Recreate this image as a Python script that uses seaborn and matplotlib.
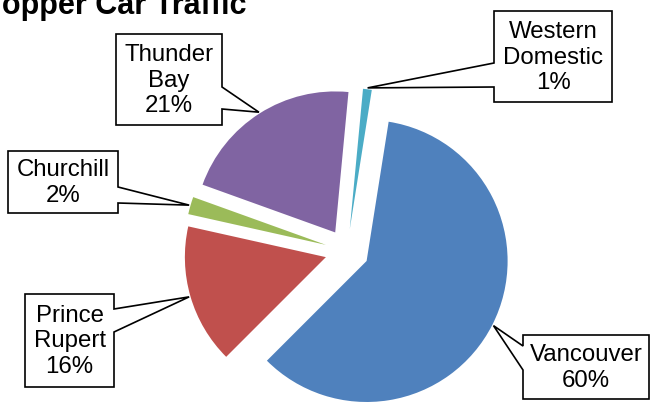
import numpy as np
import pandas as pd
import matplotlib
matplotlib.use("Agg")
import matplotlib.pyplot as plt
from matplotlib.patches import Polygon
import seaborn as sns

# ---- data ----
title = "Hopper Car Traffic"
categories = ["Vancouver", "Prince Rupert", "Churchill", "Thunder Bay", "Western Domestic"]
values = [60, 16, 2, 21, 1]
wrapped_names = ["Vancouver", "Prince\nRupert", "Churchill", "Thunder\nBay", "Western\nDomestic"]
colors = ["#4F81BD", "#C0504D", "#9BBB59", "#8064A2", "#4BACC6"]

# ---- style ----
sns.set_theme(style="white")
plt.rcParams['font.family'] = ['Liberation Sans', 'DejaVu Sans']

W, H = 650, 403
CX, CY, R = 347, 251, 141  # pie centre and radius in pixels (layout)

fig = plt.figure(figsize=(W / 100, H / 100), dpi=100)
ax = fig.add_axes([0, 0, 1, 1])

df = pd.DataFrame({"category": categories, "value": values})
wedges, _ = ax.pie(df["value"], colors=colors, startangle=81, counterclock=False,
                   explode=[0.156] * len(df), radius=1.0,
                   wedgeprops=dict(linewidth=0))
ax.set_xlim(-CX / R, (W - CX) / R)
ax.set_ylim(-(H - CY) / R, CY / R)
ax.set_aspect('equal')
ax.axis('off')


def px(x, y):
    """layout pixel (top-left origin) -> data coords"""
    return ((x - CX) / R, (CY - y) / R)


# callout box layout in pixels: x0, y0, x1, y1, pointer side, pointer start/end on edge
layout = {
    "Vancouver": (523, 335, 649, 399, 'left', 346, 370),
    "Prince Rupert": (25, 294, 114, 387, 'right', 309, 332),
    "Churchill": (8, 151, 118, 213, 'right', 187, 203),
    "Thunder Bay": (116, 34, 222, 125, 'right', 87, 109),
    "Western Domestic": (494, 11, 612, 102, 'left', 63, 87),
}

for w, cat, name, val in zip(wedges, categories, wrapped_names, values):
    mid = np.deg2rad((w.theta1 + w.theta2) / 2)
    cx, cy = w.center
    tip = (cx + w.r * 1.01 * np.cos(mid), cy + w.r * 1.01 * np.sin(mid))
    x0, y0, x1, y1, side, p1, p2 = layout[cat]
    if side == 'right':
        pts = [px(x0, y0), px(x1, y0), px(x1, p1), tip, px(x1, p2), px(x1, y1), px(x0, y1)]
    else:
        pts = [px(x0, y0), px(x1, y0), px(x1, y1), px(x0, y1), px(x0, p2), tip, px(x0, p1)]
    ax.add_patch(Polygon(pts, closed=True, facecolor='white', edgecolor='black',
                         linewidth=1.2, zorder=5, joinstyle='miter'))
    tx, ty = px((x0 + x1) / 2, (y0 + y1) / 2 + 1)
    ax.text(tx, ty, f"{name}\n{val}%", ha='center', va='center', fontsize=17.3,
            linespacing=1.22, color='black', zorder=6)

fig.text(246 / W, 1 - 14 / H, title, ha='right', va='baseline', fontsize=22,
         fontweight='bold', color='black')

fig.savefig("out.png", dpi=100)
